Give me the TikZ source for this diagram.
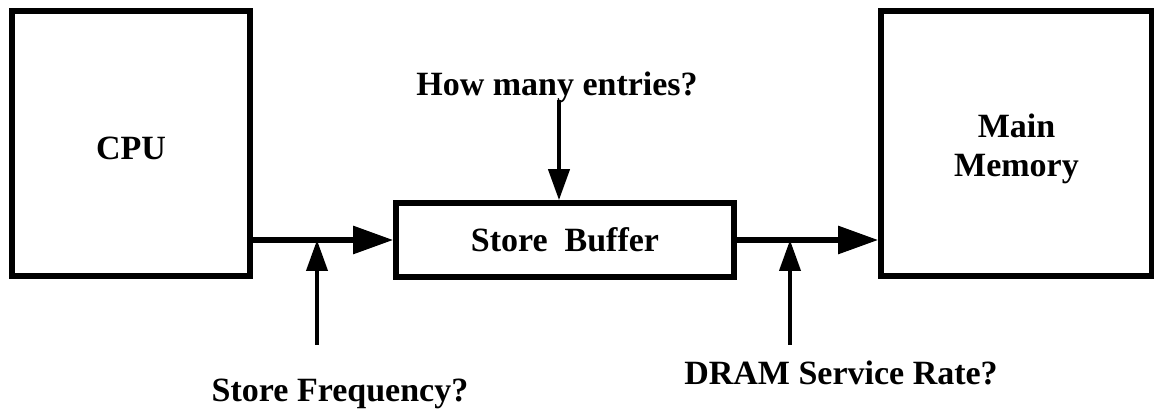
\documentclass[tikz,border=0pt]{standalone}
\usepackage{fontspec}
\setmainfont{Liberation Serif}
\usetikzlibrary{arrows.meta, positioning}

\begin{document}
\begin{tikzpicture}[x=0.02cm, y=-0.02cm,
    box/.style={rectangle, draw, line width=3.2pt, inner sep=0pt, align=center,
      font=\fontsize{19.35}{22.7}\selectfont\bfseries},
    lbl/.style={anchor=base, inner sep=0pt,
      font=\fontsize{19.35}{22.7}\selectfont\bfseries},
    arr/.style={-{Triangle[length=0.8cm, width=0.54cm]}, line width=3.2pt},
    arrthin/.style={-{Triangle[length=0.62cm, width=0.42cm]}, line width=2.3pt}]
    \useasboundingbox (0,0) rectangle (1154,411);
    \node[box, minimum width=4.76cm, minimum height=5.3cm, text height=0.65cm,
      text depth=0pt](cpu) at (131,143.5){CPU};
    \node[box, minimum width=5.42cm, minimum height=5.3cm, text height=1.34cm,
      text depth=0pt](mem) at (1016.5,143.5){Main\\Memory};
    \node[box, minimum width=6.76cm, minimum height=1.48cm](buf) at (565,240){Store\ \ Buffer};
    \node[lbl](q1) at (557,96){How many entries?};
    \node[lbl](q2) at (340,402){Store Frequency?};
    \node[lbl](q3) at (841,385){DRAM Service Rate?};
    \coordinate (p1) at (559,100);
    \coordinate (p2) at (317,345);
    \coordinate (p3) at (790,345);
    \draw[arr](cpu.east |- buf.west)--(buf.west);
    \draw[arr](buf.east)--(mem.west |- buf.east);
    \draw[arrthin](p1)--(p1 |- buf.north);
    \draw[arrthin](p2)--(p2 |- buf.west);
    \draw[arrthin](p3)--(p3 |- buf.east);
  \end{tikzpicture}
\end{document}
